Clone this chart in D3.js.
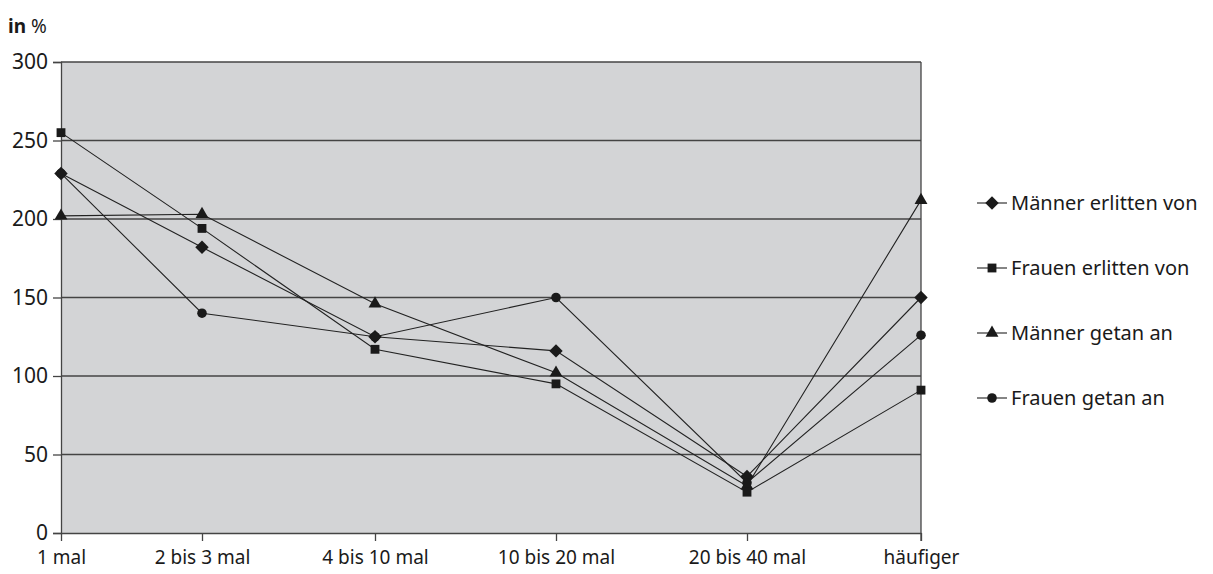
<!DOCTYPE html>
<html><head><meta charset="utf-8">
<script src="https://cdn.jsdelivr.net/npm/d3@7"></script>
<style>
body{margin:0;background:#fff;}
text{font-family:"Noto Sans","Open Sans",sans-serif;fill:#1a1a1a;}
</style></head>
<body><svg id="c" width="1213" height="574"></svg>
<script>
const categories = ["1 mal","2 bis 3 mal","4 bis 10 mal","10 bis 20 mal","20 bis 40 mal","häufiger"];
const seriesNames = ["Männer erlitten von","Frauen erlitten von","Männer getan an","Frauen getan an"];
const maennerErlitten = [229,182,125,116,36,150];
const frauenErlitten  = [255,194,117,95,26,91];
const maennerGetan    = [202,203,146,102,30,212];
const frauenGetan     = [229,140,125,150,32,126];
const yTicks = [0,50,100,150,200,250,300];

(function(){
const symbols = [d3.symbolDiamond2 || d3.symbolDiamond, d3.symbolSquare, d3.symbolTriangle, d3.symbolCircle];
const symSizes = [115, 78, 72, 72];
const seriesValues = [maennerErlitten, frauenErlitten, maennerGetan, frauenGetan];

const svg = d3.select("#c");
const pL = 61, pR = 921, pT = 62, pB = 533;
// category positions in the original are slightly uneven
const xPos = d3.scaleLinear().domain([0,1,2,3,4,5]).range([61,202,375,556,747,921]);
const y = d3.scaleLinear().domain([0,300]).range([pB, pT]);

svg.append("rect").attr("x",pL).attr("y",pT).attr("width",pR-pL).attr("height",pB-pT).attr("fill","#d3d4d6");

svg.append("g").selectAll("line").data(yTicks.filter(t=>t>0)).join("line")
  .attr("x1",pL).attr("x2",pR).attr("y1",d=>y(d)).attr("y2",d=>y(d))
  .attr("stroke","#444").attr("stroke-width",1.3);
svg.append("line").attr("x1",pR).attr("x2",pR).attr("y1",pT).attr("y2",pB+8).attr("stroke","#444").attr("stroke-width",1.3);

const yAxis = svg.append("g").attr("transform",`translate(${pL},0)`)
  .call(d3.axisLeft(y).tickValues(yTicks).tickSize(8).tickPadding(5));
yAxis.select(".domain").attr("stroke","#444").attr("stroke-width",1.3);
yAxis.selectAll(".tick line").attr("stroke","#444").attr("stroke-width",1.3);
yAxis.selectAll("text").attr("font-size",21).attr("fill","#1a1a1a").style("font-family","'Noto Sans',sans-serif");

const xAxis = svg.append("g").attr("transform",`translate(0,${pB})`)
  .call(d3.axisBottom(xPos).tickValues([0,1,2,3,4,5]).tickFormat(i=>categories[i]).tickSize(8).tickPadding(10).tickSizeOuter(0));
xAxis.select(".domain").attr("stroke","#444").attr("stroke-width",1.3);
xAxis.selectAll(".tick line").attr("stroke","#444").attr("stroke-width",1.3);
xAxis.selectAll("text").attr("font-size",19).attr("fill","#1a1a1a").style("font-family","'Noto Sans',sans-serif");

const unit = svg.append("text").attr("x",8).attr("y",33).attr("font-size",19);
unit.append("tspan").attr("font-weight","bold").text("in");
unit.append("tspan").text(" %");

const line = d3.line().x((d,i)=>xPos(i)).y(d=>y(d));
const g = svg.append("g");
seriesValues.forEach((vals)=>{
  g.append("path").attr("d",line(vals)).attr("fill","none").attr("stroke","#222").attr("stroke-width",1.1);
});
seriesValues.forEach((vals,si)=>{
  g.append("g").selectAll("path").data(vals).join("path")
    .attr("transform",(d,i)=>`translate(${xPos(i)},${y(d)})`)
    .attr("d",d3.symbol().type(symbols[si]).size(symSizes[si]))
    .attr("fill","#1a1a1a");
});

const ly = d3.scalePoint().domain(seriesNames).range([203,398]);
const lg = svg.append("g");
seriesNames.forEach((n,si)=>{
  const yy = ly(n);
  lg.append("line").attr("x1",977).attr("x2",1007).attr("y1",yy).attr("y2",yy).attr("stroke","#222").attr("stroke-width",1.1);
  lg.append("path").attr("transform",`translate(992,${yy})`).attr("d",d3.symbol().type(symbols[si]).size(symSizes[si])).attr("fill","#1a1a1a");
  lg.append("text").attr("x",1011).attr("y",yy).attr("dy","0.35em").attr("font-size",20).text(n);
});
})();
</script></body></html>
